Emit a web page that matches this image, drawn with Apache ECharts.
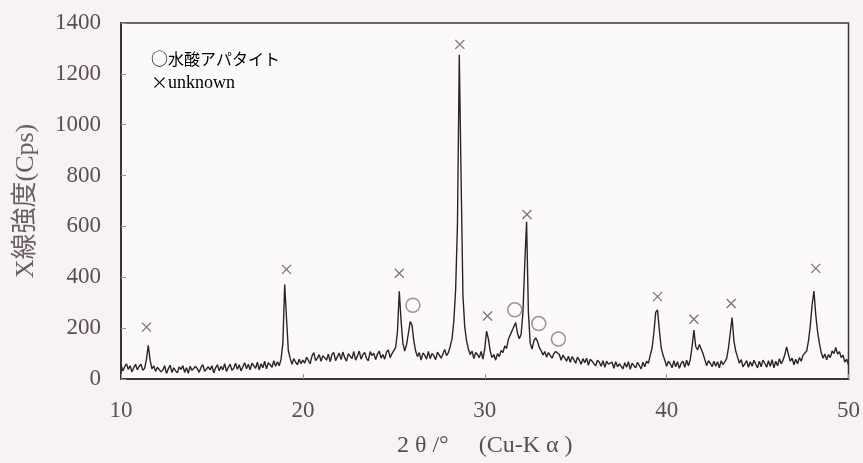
<!DOCTYPE html>
<html>
<head>
<meta charset="utf-8">
<script src="https://cdn.jsdelivr.net/npm/echarts@6/dist/echarts.min.js"></script>
<style>
  html, body { margin: 0; padding: 0; background: #f7f3f4; }
  #chart { width: 863px; height: 463px; }
</style>
</head>
<body>
<div id="chart"></div>
<script>
// XRD scan: 2θ sampled every 0.1° from 10.0° to 50.0°
const ANGLE_START = 10.0;
const ANGLE_STEP = 0.1;
const intensity = [
  55, 32, 48, 60, 38, 52, 28, 44, 58, 36,           // 10
  50, 58, 34, 42, 78, 132, 74, 40, 52, 30,          // 11
  46, 50, 28, 36, 52, 22, 40, 54, 26, 44,           // 12
  32, 24, 48, 38, 52, 26, 44, 22, 50, 34,           // 13
  28, 50, 40, 26, 46, 56, 30, 28, 48, 36,           // 14
  52, 24, 44, 56, 32, 50, 36, 60, 30, 46,           // 15
  58, 34, 42, 62, 38, 56, 32, 48, 64, 40,           // 16
  58, 36, 62, 52, 42, 66, 36, 60, 44, 70,           // 17
  40, 64, 56, 46, 72, 50, 68, 52, 78, 140,          // 18
  372, 240, 112, 82, 58, 80, 66, 56, 78, 60,        // 19
  74, 62, 86, 92, 60, 90, 104, 72, 82, 96,          // 20
  70, 92, 84, 74, 98, 68, 96, 104, 72, 88,          // 21
  102, 76, 106, 84, 70, 100, 94, 80, 108, 74,       // 22
  90, 110, 78, 96, 104, 80, 72, 108, 92, 102,       // 23
  76, 98, 110, 82, 96, 78, 106, 114, 84, 100,       // 24
  112, 124, 185, 345, 228, 140, 110, 135, 178, 226, // 25
  212, 150, 110, 88, 104, 74, 102, 94, 78, 108,     // 26
  80, 100, 92, 76, 106, 112, 82, 88, 116, 92,       // 27
  104, 128, 158, 228, 352, 610, 1275, 790, 330, 205,// 28
  150, 118, 96, 110, 80, 104, 96, 84, 108, 78,      // 29
  118, 188, 158, 110, 84, 96, 74, 100, 88, 112,     // 30
  104, 130, 120, 156, 150, 190, 184, 222, 180, 158, // 31
  176, 262, 452, 618, 262, 140, 118, 150, 162, 148, // 32
  124, 112, 94, 108, 86, 104, 98, 82, 100, 108,     // 33
  114, 96, 74, 94, 82, 70, 90, 66, 88, 76,          // 34
  62, 86, 74, 58, 80, 64, 82, 54, 78, 70,           // 35
  60, 52, 74, 66, 50, 72, 46, 70, 58, 52,           // 36
  66, 42, 68, 48, 60, 66, 40, 64, 46, 68,           // 37
  38, 62, 56, 44, 66, 64, 40, 66, 48, 70,           // 38
  62, 94, 122, 182, 262, 272, 192, 124, 94, 74,     // 39
  50, 70, 60, 44, 72, 48, 68, 42, 62, 70,           // 40
  46, 74, 52, 76, 128, 192, 128, 114, 136, 142,     // 41
  100, 76, 52, 72, 62, 48, 70, 50, 68, 44,          // 42
  72, 56, 50, 80, 122, 182, 242, 150, 110, 86,      // 43
  62, 76, 48, 60, 72, 46, 68, 50, 74, 58,           // 44
  44, 70, 48, 74, 62, 46, 72, 50, 76, 44,           // 45
  70, 52, 80, 60, 74, 96, 126, 96, 70, 82,          // 46
  56, 78, 60, 84, 70, 94, 90, 110, 150, 210,        // 47
  292, 346, 252, 186, 140, 104, 82, 98, 76, 96,     // 48
  84, 110, 100, 124, 98, 108, 84, 94, 66, 78,       // 49
  56                                                // 50
];

// Peak markers: × = unknown phase, ○ = hydroxyapatite
const unknownAngles = [11.4, 19.1, 25.3, 28.63, 30.15, 32.32, 39.5, 41.5, 43.55, 48.2];
const unknownMarks  = [204, 431, 416, 1316, 248, 647, 324, 235, 297, 435];
const apatiteAngles = [26.05, 31.65, 32.97, 34.05];
const apatiteMarks  = [290, 272, 218, 157];

// Axis ticks
const xTicks = [10, 20, 30, 40, 50];
const yTicks = [0, 200, 400, 600, 800, 1000, 1200, 1400];

const legendSymbols = ['○', '×'];
const legendNames = ['水酸アパタイト', 'unknown'];
const xTitle = '2 θ /°　 (Cu-K α )';
const yTitle = 'X線強度(Cps)';

const curveData = intensity.map((v, i) => [+(ANGLE_START + i * ANGLE_STEP).toFixed(1), v]);
const unknownData = unknownAngles.map((a, i) => [a, unknownMarks[i]]);
const apatiteData = apatiteAngles.map((a, i) => [a, apatiteMarks[i]]);

const axisColor = '#3f3239';
const labelColor = '#5b4d55';
const serif = '"Liberation Serif", "DejaVu Serif", "Noto Sans CJK JP", serif';
const cjk = '"Noto Sans CJK JP", sans-serif';

const legendRich = {
  sym: { fontFamily: cjk, fontSize: 17, color: labelColor },
  jp: { fontFamily: cjk, fontSize: 16, color: labelColor },
  en: { fontFamily: serif, fontSize: 18, color: labelColor }
};

const chart = echarts.init(document.getElementById('chart'), null, { renderer: 'canvas' });
chart.setOption({
  animation: false,
  backgroundColor: '#f7f3f4',
  grid: {
    left: 121, right: 14, top: 23, bottom: 83,
    show: true,
    backgroundColor: '#fcf9fa',
    borderColor: axisColor,
    borderWidth: 1.5
  },
  xAxis: {
    type: 'value',
    min: xTicks[0], max: xTicks[xTicks.length - 1], interval: 10,
    name: xTitle,
    nameLocation: 'middle',
    nameGap: 55,
    nameTextStyle: { color: labelColor, fontSize: 24, fontFamily: serif },
    axisLine: { lineStyle: { color: axisColor, width: 2 } },
    axisTick: { inside: true, length: 5, lineStyle: { color: '#9a9096' } },
    axisLabel: { color: labelColor, fontSize: 23, fontFamily: serif, margin: 20 },
    splitLine: { show: false }
  },
  yAxis: {
    type: 'value',
    min: yTicks[0], max: yTicks[yTicks.length - 1], interval: 200,
    name: yTitle,
    nameLocation: 'middle',
    nameRotate: 90,
    nameGap: 82,
    nameTextStyle: { color: '#6a5e65', fontSize: 26, fontFamily: serif },
    axisLine: { lineStyle: { color: axisColor, width: 2 } },
    axisTick: { inside: true, length: 5, lineStyle: { color: '#9a9096' } },
    axisLabel: {
      color: labelColor, fontSize: 23, fontFamily: serif, margin: 20,
      formatter: v => String(v)
    },
    splitLine: { show: false }
  },
  graphic: [
    {
      type: 'text', left: 151, top: 50,
      style: { text: '{sym|' + legendSymbols[0] + '}{jp|' + legendNames[0] + '}', rich: legendRich }
    },
    {
      type: 'text', left: 151, top: 74,
      style: { text: '{sym|' + legendSymbols[1] + '}{en|' + legendNames[1] + '}', rich: legendRich }
    }
  ],
  series: [
    {
      name: 'scan',
      type: 'line',
      data: curveData,
      showSymbol: false,
      symbol: 'none',
      lineStyle: { color: '#2c2329', width: 1.4 },
      z: 3
    },
    {
      name: 'unknown',
      type: 'scatter',
      data: unknownData,
      symbol: 'path://M0,0L10,10M10,0L0,10',
      symbolSize: 9,
      itemStyle: { color: 'transparent', borderColor: '#5a5056', borderWidth: 1.3 },
      z: 4
    },
    {
      name: 'apatite',
      type: 'scatter',
      data: apatiteData,
      symbol: 'circle',
      symbolSize: 14,
      itemStyle: { color: 'transparent', borderColor: '#857a80', borderWidth: 1.5 },
      z: 4
    }
  ]
});
</script>
</body>
</html>
